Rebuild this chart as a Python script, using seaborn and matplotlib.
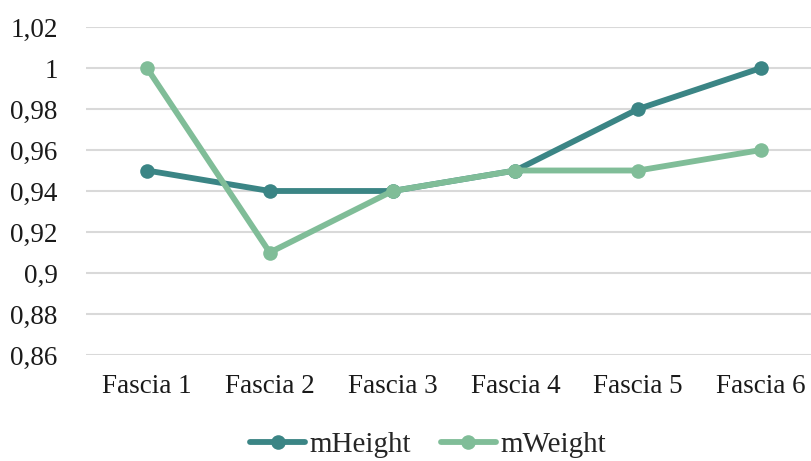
import matplotlib
matplotlib.use("Agg")
import matplotlib.pyplot as plt
import seaborn as sns
import pandas as pd
from matplotlib.ticker import FuncFormatter

categories = ["Fascia 1", "Fascia 2", "Fascia 3", "Fascia 4", "Fascia 5", "Fascia 6"]
m_height = [0.95, 0.94, 0.94, 0.95, 0.98, 1.00]
m_weight = [1.00, 0.91, 0.94, 0.95, 0.95, 0.96]
series_names = ["mHeight", "mWeight"]
colors = ["#3b8585", "#80bd98"]

df = pd.DataFrame({
    "fascia": categories * 2,
    "value": m_height + m_weight,
    "serie": [series_names[0]] * len(categories) + [series_names[1]] * len(categories),
})

sns.set_theme(style="white")
plt.rcParams["font.family"] = ["Liberation Serif", "DejaVu Serif"]

fig = plt.figure(figsize=(8.11, 4.61), dpi=100)
ax = fig.add_axes([85.5 / 811, 1 - 355 / 461, (811 - 85.5) / 811, (355 - 27) / 461])

sns.lineplot(
    data=df, x="fascia", y="value", hue="serie", palette=colors,
    marker="o", markersize=10.5, markeredgewidth=0, linewidth=4.2,
    ax=ax, legend=True, sort=False,
)

ax.set_xlim(-0.5, 5.5 - 11.5 / 123)
ax.set_ylim(0.86, 1.02)
ax.set_yticks([0.86 + 0.02 * i for i in range(9)])

def fmt(v, _):
    s = f"{v:.2f}".rstrip("0").rstrip(".")
    return s.replace(".", ",")

ax.yaxis.set_major_formatter(FuncFormatter(fmt))
ax.yaxis.grid(True, color="#d9d9d9", linewidth=1.5)
ax.set_axisbelow(True)
for sp in ax.spines.values():
    sp.set_visible(False)
ax.tick_params(axis="both", length=0, labelsize=19.5, colors="#1a1a1a")
ax.tick_params(axis="x", pad=14)
ax.tick_params(axis="y", pad=20)
ax.set_xlabel("")
ax.set_ylabel("")

handles, labels = ax.get_legend_handles_labels()
ax.get_legend().remove()
fig.legend(
    handles, labels, loc="center", bbox_to_anchor=(428 / 811, 1 - 445 / 461),
    ncol=2, frameon=False, fontsize=21, handlelength=1.9, handletextpad=0.15,
    columnspacing=1.0,
)

fig.savefig("out.png", dpi=100)
